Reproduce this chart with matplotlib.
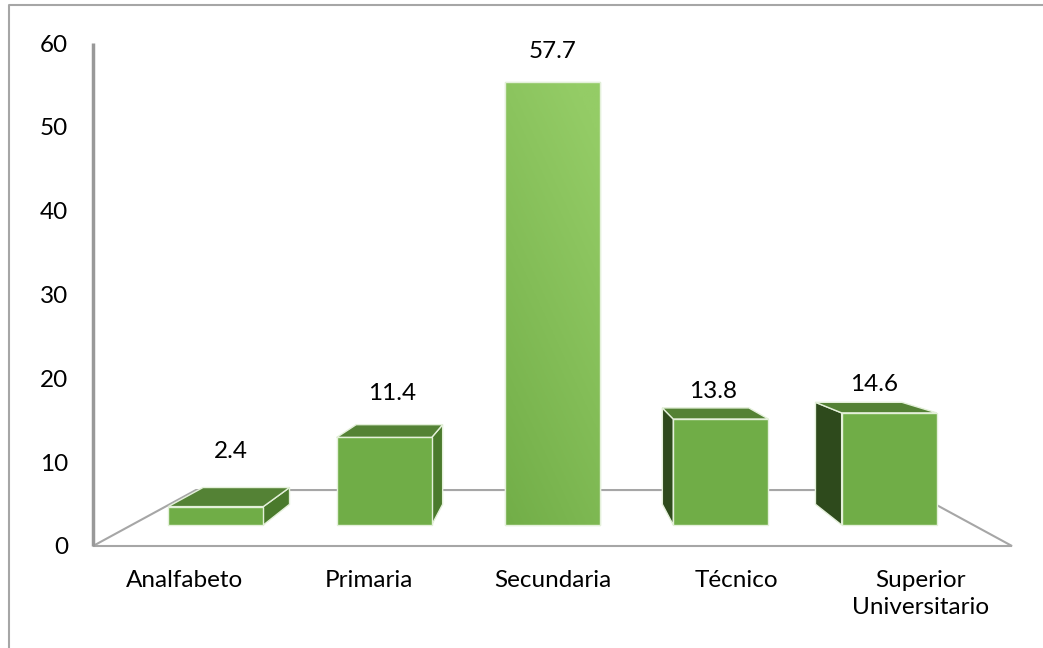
import numpy as np
import matplotlib.pyplot as plt
from matplotlib.patches import Polygon
from matplotlib.lines import Line2D

# education level shares (%)
categories = ["Analfabeto", "Primaria", "Secundaria", "Técnico", "Superior\nUniversitario"]
values = [2.4, 11.4, 57.7, 13.8, 14.6]
yticks = [0, 10, 20, 30, 40, 50, 60]

# fake 3D perspective: vanishing point and depth scales
XV, YV = 2.5, 29.8
S_FRONT, S_BACK, S_FLOOR = 0.916, 0.833, 0.776
BAR_W = 0.565
label_pad = [33, 27, 22, 16, 17]   # points above each bar top
FS = 17.5

FRONT = "#70AD47"
TOP = "#548235"
SIDE_R = "#4A7A2C"
SIDE_L = "#2E4A1C"
EDGE = "#E4F0DA"
GRID = "#A6A6A6"

plt.rcParams['font.family'] = ['Lato', 'DejaVu Sans']


def proj(x, y, s):
    return XV + s * (x - XV), YV + s * (y - YV)


fig = plt.figure(figsize=(10.43, 6.48), dpi=100)
ax = fig.add_axes([93 / 1043, 102 / 648, 919 / 1043, 503 / 648])
ax.set_xlim(0, 5)
ax.set_ylim(0, 60)
for sp in ax.spines.values():
    sp.set_visible(False)

# outer chart border (top and left only visible)
fig.add_artist(Line2D([9 / 1043, 9 / 1043, 1], [0, 643 / 648, 643 / 648],
                      color="#A6A6A6", lw=1.5, transform=fig.transFigure))

# floor outline
n = len(values)
fl = [proj(0, 0, 1), proj(n, 0, 1), proj(n, 0, S_FLOOR), proj(0, 0, S_FLOOR)]
ax.add_patch(Polygon(fl, closed=True, fill=False, edgecolor=GRID, lw=1.5,
                     zorder=1, clip_on=False))
# value axis
ax.plot([0, 0], [0, 60], color="#999999", lw=2.5, zorder=1, clip_on=False,
        solid_capstyle='butt')

for i, (v, cat) in enumerate(zip(values, categories)):
    c = i + 0.5
    xl, xr = c - BAR_W / 2, c + BAR_W / 2
    x0, y0 = proj(xl, 0, S_FRONT)
    z = 3 + (n - abs(c - XV))

    # side faces
    if xr < XV:
        side = [proj(xr, 0, S_FRONT), proj(xr, v, S_FRONT),
                proj(xr, v, S_BACK), proj(xr, 0, S_BACK)]
        ax.add_patch(Polygon(side, closed=True, facecolor=SIDE_R,
                             edgecolor=EDGE, lw=1, zorder=z))
    if xl > XV:
        side = [proj(xl, 0, S_FRONT), proj(xl, v, S_FRONT),
                proj(xl, v, S_BACK), proj(xl, 0, S_BACK)]
        ax.add_patch(Polygon(side, closed=True, facecolor=SIDE_L,
                             edgecolor=EDGE, lw=1, zorder=z))
    # top face
    if v < YV:
        top = [proj(xl, v, S_FRONT), proj(xr, v, S_FRONT),
               proj(xr, v, S_BACK), proj(xl, v, S_BACK)]
        ax.add_patch(Polygon(top, closed=True, facecolor=TOP,
                             edgecolor=EDGE, lw=1, zorder=z))

    # front face
    bar = ax.bar(x0, S_FRONT * v, width=S_FRONT * BAR_W, bottom=y0,
                 align='edge', color=FRONT, edgecolor=EDGE, lw=1,
                 zorder=z + 0.5)[0]
    if v > YV:
        # highlighted bar with light gradient
        gy, gx = np.mgrid[0:1:100j, 0:1:60j]
        t = np.clip(0.75 * gy + 0.35 * gx, 0, 1)
        c0 = np.array([0x72, 0xAE, 0x48]) / 255
        c1 = np.array([0x94, 0xCC, 0x66]) / 255
        img = c0 + t[..., None] * (c1 - c0)
        im = ax.imshow(img, origin='lower', aspect='auto',
                       extent=[x0, x0 + S_FRONT * BAR_W, y0, y0 + S_FRONT * v],
                       zorder=z + 0.6)
        im.set_clip_path(bar)
        ax.bar(x0, S_FRONT * v, width=S_FRONT * BAR_W, bottom=y0,
               align='edge', fill=False, edgecolor=EDGE, lw=1, zorder=z + 0.7)

    # value label
    sm = (S_FRONT + S_BACK) / 2
    lx, ly = proj(c, v, sm if v < YV else S_FRONT)
    ax.annotate(f"{v:.1f}", (lx, ly), xytext=(0, label_pad[i]),
                textcoords='offset points', ha='center', va='center',
                fontsize=FS, color="black", zorder=20)

ax.set_xticks([i + 0.5 for i in range(n)])
ax.set_xticklabels(categories, fontsize=FS, va='top', linespacing=1.35)
ax.set_yticks(yticks)
ax.set_yticklabels([str(t) for t in yticks], fontsize=FS)
ax.tick_params(axis='x', length=0, pad=17)
ax.tick_params(axis='y', length=0, pad=18)

fig.savefig("out.png", dpi=100, facecolor="white")
